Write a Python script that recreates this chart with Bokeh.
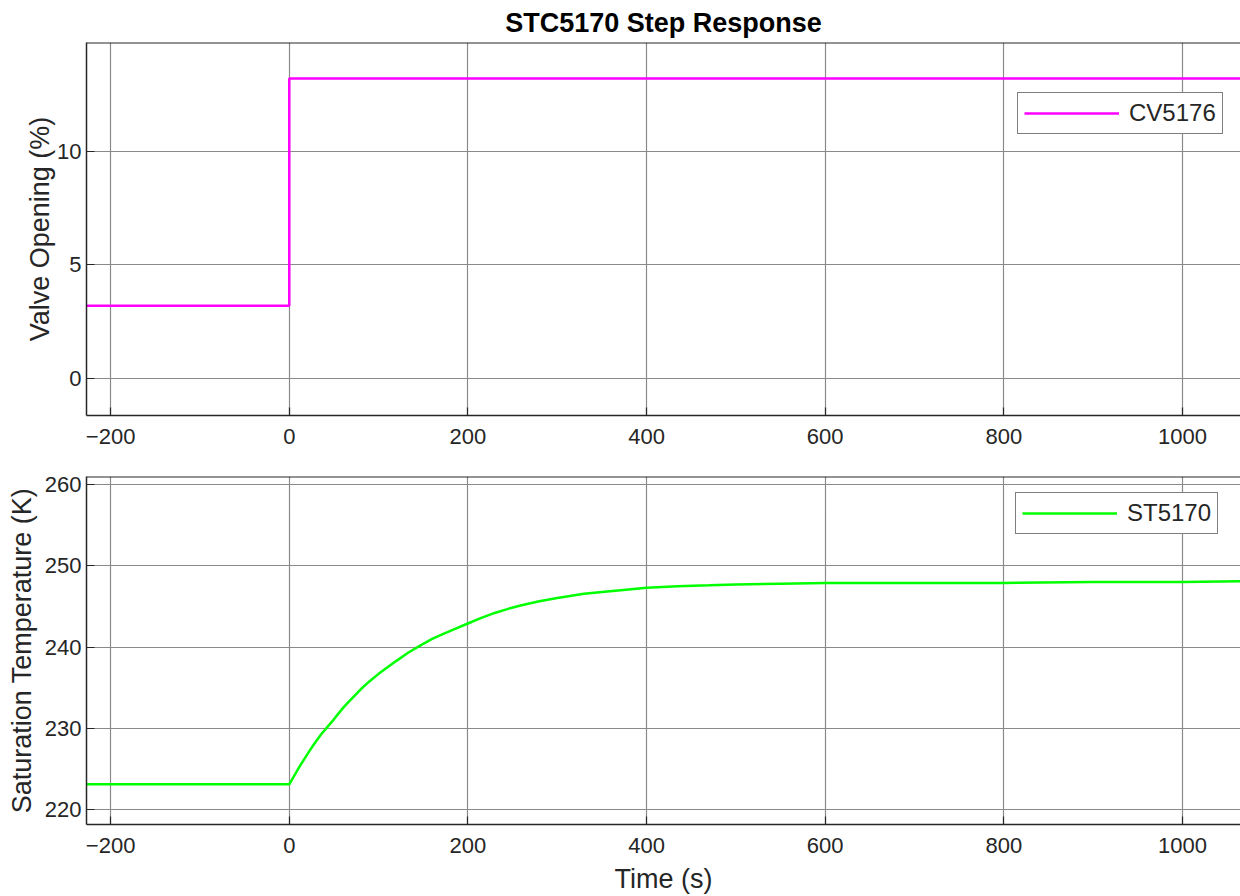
from bokeh.plotting import figure
from bokeh.models import Range1d, FixedTicker, Legend, LegendItem, Title, Span
from bokeh.layouts import column
from bokeh.embed import file_html
from bokeh.resources import INLINE

# ---- data ----
cv_time = [-227, 0, 0, 1065]
cv_value = [3.2, 3.2, 13.2, 13.2]

st_time = [-227, 0, 5, 10, 15, 20, 25, 30, 36, 43, 50, 55, 61, 67, 73, 80, 90, 100,
           110, 120, 133, 147, 160, 170, 185, 200, 215, 230, 245, 260, 280, 300, 330,
           356, 380, 400, 435, 470, 500, 550, 600, 700, 800, 900, 1000, 1065]
st_value = [223.1, 223.1, 224.05, 225.0, 225.9, 226.75, 227.6, 228.4, 229.3, 230.2,
            231.1, 231.8, 232.6, 233.3, 234.0, 234.8, 235.8, 236.7, 237.5, 238.3,
            239.3, 240.2, 241.0, 241.5, 242.2, 242.9, 243.6, 244.2, 244.7, 245.15,
            245.65, 246.05, 246.55, 246.85, 247.1, 247.3, 247.5, 247.6, 247.7, 247.8,
            247.9, 247.9, 247.9, 248.0, 248.0, 248.1]

x_ticks = [-200, 0, 200, 400, 600, 800, 1000]
cv_ticks = [0, 5, 10]
st_ticks = [220, 230, 240, 250, 260]

FONT = "Liberation Sans"
AX = "#262626"
TICK_FS = "22px"
LABEL_FS = "27px"


def style_axis(ax, ticks):
    ax.ticker = FixedTicker(ticks=ticks)
    ax.axis_line_color = AX
    ax.axis_line_width = 1.5
    ax.major_tick_line_color = AX
    ax.major_tick_line_width = 1.2
    ax.major_tick_in = 8
    ax.major_tick_out = 0
    ax.minor_tick_line_color = None
    ax.major_label_text_font = FONT
    ax.major_label_text_color = AX
    ax.major_label_text_font_size = TICK_FS
    ax.major_label_standoff = 13
    ax.axis_label_text_font = FONT
    ax.axis_label_text_color = AX
    ax.axis_label_text_font_style = "normal"
    ax.axis_label_text_font_size = LABEL_FS


def make_fig(height, top, bottom, y_range, y_ticks):
    p = figure(width=1240, height=height, output_backend="svg", toolbar_location=None,
               x_range=Range1d(-227, 1065), y_range=y_range,
               min_border_left=86, min_border_right=0,
               min_border_top=top, min_border_bottom=bottom)
    p.outline_line_color = None
    p.background_fill_color = "white"
    p.border_fill_color = "white"
    xa = p.below[0]
    ya = p.left[0]
    style_axis(xa, x_ticks)
    style_axis(ya, y_ticks)
    ya.major_label_standoff = 5
    # top border of the axes box
    p.add_layout(Span(location=y_range.end, dimension="width",
                      line_color=AX, line_width=2))
    p.xgrid.ticker = FixedTicker(ticks=x_ticks)
    p.ygrid.ticker = FixedTicker(ticks=y_ticks)
    for g in (p.xgrid[0], p.ygrid[0]):
        g.grid_line_color = "#8a8a8a"
        g.grid_line_width = 1.2
    return p, xa, ya


def add_legend(p, r, label, x, y):
    leg = Legend(items=[LegendItem(label=label, renderers=[r])], location=(x, y),
                 border_line_color="black", border_line_width=1.2,
                 padding=6, margin=0, spacing=0, glyph_width=95, glyph_height=20,
                 label_standoff=10, label_text_font=FONT, label_text_font_size="24px",
                 label_text_color=AX, background_fill_color="white",
                 background_fill_alpha=1)
    p.add_layout(leg)


# ---- top ----
p1, xa1, ya1 = make_fig(448, 42, 33, Range1d(-1.63, 14.79), cv_ticks)
p1.title = Title(text="STC5170 Step Response", align="center", text_font=FONT,
                 text_font_size="27px", text_font_style="bold", text_color="black",
                 standoff=9)
ya1.axis_label = "Valve Opening (%)"
ya1.axis_label_standoff = -1
r1 = p1.line(cv_time, cv_value, line_color="#FF00FF", line_width=2.5)
add_legend(p1, r1, "CV5176", 931, 281)

# ---- bottom ----
p2, xa2, ya2 = make_fig(448, 28, 72, Range1d(218.15, 261.0), st_ticks)
ya2.axis_label = "Saturation Temperature (K)"
ya2.axis_label_standoff = 5
xa2.axis_label = "Time (s)"
xa2.axis_label_text_line_height = 0.8
xa2.axis_label_standoff = 8
r2 = p2.line(st_time, st_value, line_color="#00FF00", line_width=2.5)
add_legend(p2, r2, "ST5170", 929, 290)

layout = column(p1, p2, spacing=0)
open("out.html", "w").write(file_html(layout, INLINE))
